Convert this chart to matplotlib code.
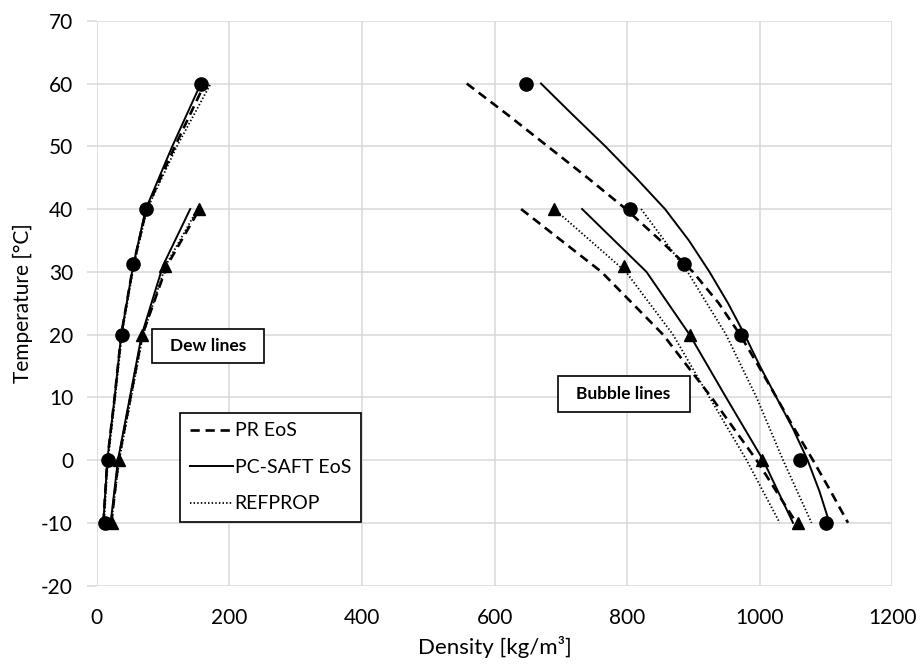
"""
Dew and bubble lines: experimental points vs PR / PC-SAFT / REFPROP.
"""

import matplotlib
matplotlib.use("Agg")
import matplotlib.pyplot as plt
from matplotlib.lines import Line2D
from matplotlib.patches import Rectangle

plt.rcParams['font.family'] = ['Lato', 'DejaVu Sans']
plt.rcParams['axes.unicode_minus'] = False

# experimental points (circles and triangles)
exp_circ_T = [60, 40, 31.2, 20, 0, -10]
exp_circ_dew = [157, 75, 55, 38, 17, 12]
exp_circ_bub = [647, 804, 886, 972, 1060, 1100]
exp_tri_T = [40, 31, 20, 0, -10]
exp_tri_dew = [155, 103, 69, 33, 23]
exp_tri_bub = [690, 795, 894, 1003, 1057]

# dew lines, circle mixture
dew_circ_T = [-10, 0, 10, 20, 31, 40, 50, 60]
dew_circ_pcsaft = [10, 16, 27, 37, 55, 74, 114, 157]
dew_circ_pr = [10, 16, 27, 37, 55, 75, 118, 163]
dew_circ_refprop = [11, 17, 28, 38, 56, 76, 121, 172]

# dew lines, triangle mixture
dew_tri_T = [-10, 0, 10, 20, 31, 40]
dew_tri_pcsaft = [21, 32, 50, 68, 100, 141]
dew_tri_pr = [22, 33, 51, 69, 106, 155]
dew_tri_refprop = [22, 34, 52, 70, 104, 152]

# bubble lines, circle mixture
bub_circ_T = [60, 55, 50, 45, 40, 35, 30, 25, 20, 15, 10, 5, 0, -5, -10]
bub_circ_pcsaft = [670, 718, 767, 813, 857, 893, 924, 952, 977, 1000, 1025, 1050, 1072, 1090, 1105]
bub_circ_pr = [558, 620, 680, 740, 798, 850, 899, 938, 970, 998, 1025, 1052, 1080, 1107, 1133]
bub_circ_ref_T = [40, 30, 20, 10, 0, -10]
bub_circ_refprop = [821, 891, 949, 995, 1035, 1078]

# bubble lines, triangle mixture
bub_tri_T = [40, 30, 20, 10, 0, -10]
bub_tri_pcsaft = [732, 829, 894, 949, 1005, 1050]
bub_tri_pr = [640, 761, 854, 927, 995, 1055]
bub_tri_refprop = [690, 798, 869, 924, 980, 1030]

dash_kw = dict(color='black', lw=1.9, linestyle=(0, (3.5, 2.2)))
solid_kw = dict(color='black', lw=1.4, linestyle='-')
dot_kw = dict(color='black', lw=1.3, linestyle=(0, (0.8, 1.2)))

fig = plt.figure(figsize=(9.21, 6.70), dpi=100)
ax = fig.add_axes([0.105, 0.126, 0.864, 0.843])

# model lines
ax.plot(dew_circ_pr, dew_circ_T, **dash_kw)
ax.plot(dew_circ_refprop, dew_circ_T, **dot_kw)
ax.plot(dew_circ_pcsaft, dew_circ_T, **solid_kw)
ax.plot(dew_tri_pr, dew_tri_T, **dash_kw)
ax.plot(dew_tri_refprop, dew_tri_T, **dot_kw)
ax.plot(dew_tri_pcsaft, dew_tri_T, **solid_kw)

ax.plot(bub_circ_pr, bub_circ_T, **dash_kw)
ax.plot(bub_circ_refprop, bub_circ_ref_T, **dot_kw)
ax.plot(bub_circ_pcsaft, bub_circ_T, **solid_kw)
ax.plot(bub_tri_pr, bub_tri_T, **dash_kw)
ax.plot(bub_tri_refprop, bub_tri_T, **dot_kw)
ax.plot(bub_tri_pcsaft, bub_tri_T, **solid_kw)

# experimental markers
ax.plot(exp_circ_dew, exp_circ_T, 'o', color='black', ms=9.5, zorder=5)
ax.plot(exp_circ_bub, exp_circ_T, 'o', color='black', ms=9.5, zorder=5)
ax.plot(exp_tri_dew, exp_tri_T, '^', color='black', ms=9, zorder=5)
ax.plot(exp_tri_bub, exp_tri_T, '^', color='black', ms=9, zorder=5)

ax.set_xlim(0, 1200)
ax.set_ylim(-20, 70)
ax.set_xticks(range(0, 1201, 200))
ax.set_yticks(range(-20, 71, 10))
ax.grid(True, color='#d9d9d9', lw=1.1)
ax.set_axisbelow(True)
for s in ax.spines.values():
    s.set_visible(False)
ax.tick_params(axis='both', length=7, color='#d9d9d9', width=1.1, labelsize=15)
ax.tick_params(axis='y', pad=10)
ax.tick_params(axis='x', length=0, pad=16)

ax.set_xlabel("Density [kg/m³]", fontsize=16, labelpad=6)
ax.set_ylabel("Temperature [°C]", fontsize=15, labelpad=6)

# labels in boxes
for (x0, x1, y0, y1), label in [((83, 252, 15.5, 20.9), "Dew lines"),
                                ((695, 894, 7.6, 13.4), "Bubble lines")]:
    ax.add_patch(Rectangle((x0, y0), x1 - x0, y1 - y0, facecolor='white',
                           edgecolor='black', lw=1.2, zorder=6))
    ax.text((x0 + x1) / 2, (y0 + y1) / 2, label, fontsize=12.5, fontweight='bold',
            ha='center', va='center', zorder=7)

handles = [Line2D([], [], **dash_kw), Line2D([], [], **solid_kw), Line2D([], [], **dot_kw)]
leg = ax.legend(handles, ["PR EoS", "PC-SAFT EoS", "REFPROP"], loc='upper left',
                bbox_to_anchor=(0.105, 0.306), borderaxespad=0, fontsize=14,
                fancybox=False, framealpha=1, edgecolor='black', handlelength=2.2,
                handletextpad=0.1, labelspacing=1.0, borderpad=0.5)
leg.get_frame().set_linewidth(1.2)
leg.set_zorder(8)

fig.savefig("out.png", dpi=100)
